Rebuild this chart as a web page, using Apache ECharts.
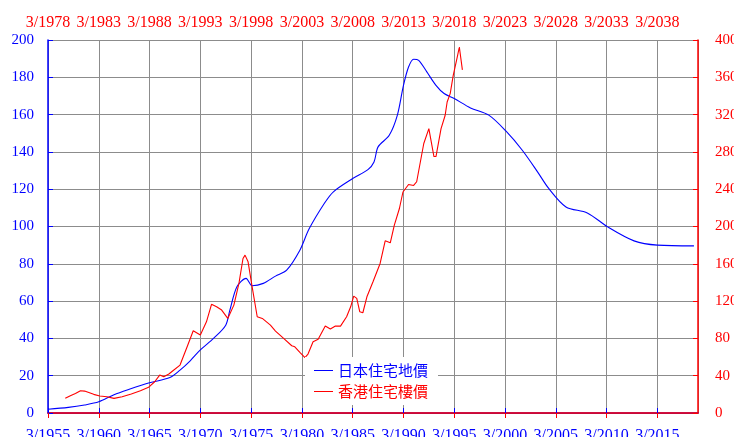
<!DOCTYPE html>
<html>
<head>
<meta charset="utf-8">
<script src="https://cdn.jsdelivr.net/npm/echarts@6/dist/echarts.min.js"></script>
<style>
  html, body { margin: 0; padding: 0; background: #fff; }
  #chart { width: 734px; height: 437px; }
</style>
</head>
<body>
<div id="chart"></div>
<script>
  // 日本住宅地價 (bottom axis years, left axis)
  const jpYears = [1955, 1957, 1958.6, 1960, 1961.5, 1963, 1965, 1967, 1968, 1969,
    1970, 1971.3, 1972.5, 1972.9, 1973.6, 1974.5, 1975.1, 1976.2, 1977.4, 1978.5,
    1979.8, 1980.7, 1982.2, 1983.1, 1985, 1986.5, 1987.1, 1987.5, 1988.6, 1989.4,
    1990, 1990.5, 1991, 1991.5, 1992.3, 1993.2, 1994, 1995, 1996.6, 1998.4,
    2000.1, 2001.7, 2003.2, 2004.3, 2006, 2008.1, 2010.1, 2012.7, 2015, 2018.6];
  const jpValues = [2, 3, 4.3, 6, 9.8, 12.7, 16.2, 19, 23, 28,
    33.8, 40, 47.1, 55, 67.7, 72.2, 68.2, 69.5, 73.4, 76.6,
    87.3, 98.6, 112.3, 118.6, 125.7, 130.5, 134.6, 142.7, 148.9, 159.7,
    175.7, 185.5, 189.7, 189.1, 182.9, 175.7, 171.3, 168.6, 163.6, 159.7,
    151.1, 140.9, 129.3, 120.4, 110.5, 107.3, 99.8, 92.3, 90, 89.6];

  // 香港住宅樓價 (top axis years, right axis)
  const hkYears = [1979.7, 1980.2, 1980.7, 1981.2, 1981.6, 1982.5, 1983.1, 1983.8, 1984.5, 1985.3,
    1986.2, 1987.1, 1987.9, 1988.5, 1989.0, 1989.4, 1989.9, 1990.3, 1991.0, 1991.7,
    1992.3, 1993.0, 1993.6, 1994.1, 1994.6, 1995.1, 1995.7, 1996.3, 1996.8, 1997.2,
    1997.4, 1997.7, 1998.1, 1998.6, 1999.1, 1999.9, 2000.4, 2001.2, 2002.0, 2002.3,
    2002.8, 2003.3, 2003.6, 2004.1, 2004.6, 2005.3, 2005.8, 2006.3, 2006.8, 2007.4,
    2007.8, 2008.1, 2008.4, 2008.7, 2009.0, 2009.4, 2010.0, 2010.7, 2011.2, 2011.7,
    2012.1, 2012.6, 2012.95, 2013.5, 2014.0, 2014.3, 2015.0, 2015.5, 2016.0, 2016.2,
    2016.7, 2017.1, 2017.3, 2017.6, 2017.9, 2018.3, 2018.5, 2018.8];
  const hkValues = [15.7, 18.6, 21, 23.9, 23.5, 20, 18.2, 17.5, 15.7, 17.5,
    20.4, 23.9, 27.5, 33.5, 40.7, 38.9, 41.8, 45.3, 51.4, 71,
    88.2, 83.6, 97.8, 116.5, 113.9, 110.4, 101.4, 115.7, 139, 165.7,
    169.3, 162.1, 135.3, 103.2, 101.4, 94.3, 87.9, 80, 72.1, 71,
    65, 59.5, 63.2, 76.4, 79, 93.2, 90, 93.2, 93.2, 103.2,
    113.9, 125.4, 122.9, 108.5, 107.5, 124.6, 140.7, 160.4, 184.6, 182.5,
    201.4, 219.3, 237, 245, 244, 248, 289, 305, 275, 275,
    305, 319, 333.5, 342.5, 362, 382, 392.5, 368];

  const seriesNames = ['日本住宅地價', '香港住宅樓價'];
  const BLUE = '#0000ff';
  const RED = '#ff0000';
  const GRID = '#8c8c8c';
  const serif = 'Liberation Serif, Times New Roman, serif';

  let chart = echarts.init(document.getElementById('chart'));

  function xAxisCfg(pos, min, color, split, margin) {
    return {
      type: 'value',
      position: pos,
      min: min,
      max: min + 64,
      interval: 5,
      axisLine: { show: true, lineStyle: { color: color, width: 1.5 } },
      axisTick: { show: true, inside: true, length: 5, lineStyle: { color: color } },
      axisLabel: {
        color: color,
        fontFamily: serif,
        fontSize: 16,
        margin: margin,
        showMaxLabel: false,
        formatter: v => '3/' + v
      },
      splitLine: { show: split, lineStyle: { color: GRID, width: 1 } }
    };
  }

  function yAxisCfg(pos, max, color, split, margin) {
    return {
      type: 'value',
      position: pos,
      min: 0,
      max: max,
      interval: max / 10,
      axisLine: { show: true, lineStyle: { color: color, width: 1.5 } },
      axisTick: { show: true, inside: true, length: 5, lineStyle: { color: color } },
      axisLabel: { color: color, fontFamily: serif, fontSize: 15, margin: margin },
      splitLine: { show: split, lineStyle: { color: GRID, width: 1 } }
    };
  }

  let option = {
    animation: false,
    backgroundColor: '#fff',
    grid: { left: 48, right: 36, top: 40, bottom: 24, containLabel: false, outerBoundsMode: 'none' },
    xAxis: [
      xAxisCfg('bottom', 1955, BLUE, true, 15),
      xAxisCfg('top', 1978, RED, false, 9)
    ],
    yAxis: [
      yAxisCfg('left', 200, BLUE, true, 14),
      yAxisCfg('right', 400, RED, false, 17)
    ],
    legend: {
      left: 305,
      top: 357,
      orient: 'vertical',
      backgroundColor: '#fff',
      padding: [6, 10, 6, 9],
      icon: 'rect',
      itemWidth: 19,
      itemHeight: 1,
      itemGap: 6,
      data: [
        { name: seriesNames[0], textStyle: { color: BLUE } },
        { name: seriesNames[1], textStyle: { color: RED } }
      ],
      textStyle: { fontFamily: 'Noto Sans CJK TC', fontSize: 15, lineHeight: 15, padding: [0, 0, 0, 0] }
    },
    series: [
      {
        name: seriesNames[0],
        type: 'line',
        xAxisIndex: 0,
        yAxisIndex: 0,
        symbol: 'none',
        smooth: 0.3,
        color: BLUE,
        lineStyle: { width: 1.1, color: BLUE },
        data: jpYears.map((y, i) => [y, jpValues[i]])
      },
      {
        name: seriesNames[1],
        type: 'line',
        xAxisIndex: 1,
        yAxisIndex: 1,
        symbol: 'none',
        color: RED,
        lineStyle: { width: 1.1, color: RED },
        data: hkYears.map((y, i) => [y, hkValues[i]])
      }
    ]
  };
  chart.setOption(option);
</script>
</body>
</html>
